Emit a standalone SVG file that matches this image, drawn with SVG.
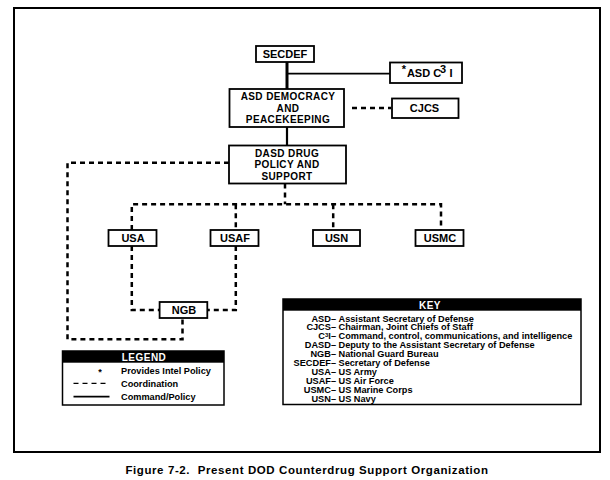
<svg xmlns="http://www.w3.org/2000/svg" width="610" height="480" viewBox="0 0 610 480">
<style>
.box{fill:#fff;stroke:#000;stroke-width:1.8}
.lbl{font-family:"Liberation Sans",Arial,sans-serif;font-size:11px;font-weight:bold;text-anchor:middle;fill:#000}
.ml{font-size:10px;letter-spacing:0.4px}
.sm{font-family:"Liberation Sans",Arial,sans-serif;font-size:9.2px;font-weight:bold;fill:#000}
.term{text-anchor:end}
.hdr{font-family:"Liberation Sans",Arial,sans-serif;font-size:10px;font-weight:bold;fill:#fff;text-anchor:middle;letter-spacing:0.5px}
.solid{stroke:#000;fill:none}
.dash{stroke:#000;stroke-width:2.5;stroke-dasharray:5 4;fill:none}
</style>
<rect x="0" y="0" width="610" height="480" fill="#fff"/>
<rect x="14" y="8" width="586" height="444" fill="none" stroke="#000" stroke-width="2"/>

<g id="connectors">
  <path class="solid" stroke-width="3" d="M287,62 V89"/>
  <path class="solid" stroke-width="1.8" d="M287,73.7 H390"/>
  <path class="solid" stroke-width="2.2" d="M287,127 V145.5"/>
  <path class="dash" d="M352,108 H391"/>
  <path class="dash" d="M229,162.7 H67.5 V339.3 H182.5 V318"/>
  <path class="dash" d="M285,183.5 V204.3"/>
  <path class="dash" d="M131.8,230 V204.3 H441 V230"/>
  <path class="dash" d="M235.8,204.3 V230"/>
  <path class="dash" d="M333.2,204.3 V230"/>
  <path class="dash" d="M131.8,246 V310 H159.6"/>
  <path class="dash" d="M235.8,246 V310 H207.3"/>
</g>

<g id="secdef">
  <rect class="box" x="256" y="46" width="58" height="16"/>
  <text class="lbl" x="285" y="58">SECDEF</text>
</g>
<g id="asdc3i">
  <rect class="box" x="390" y="62.5" width="72" height="20.5"/>
  <text class="lbl" x="404" y="73" font-size="8">*</text>
  <text class="lbl" x="424" y="77">ASD C</text>
  <text class="lbl" x="443" y="73" font-size="8">3</text>
  <text class="lbl" x="451" y="77">I</text>
</g>
<g id="asd-democracy">
  <rect class="box" x="229.5" y="89" width="114.5" height="38"/>
  <text class="lbl ml" x="288" y="100">ASD DEMOCRACY</text>
  <text class="lbl ml" x="288" y="111.5">AND</text>
  <text class="lbl ml" x="288" y="123">PEACEKEEPING</text>
</g>
<g id="cjcs">
  <rect class="box" x="392" y="98.5" width="66.5" height="19.5"/>
  <text class="lbl" x="424.5" y="112">CJCS</text>
</g>
<g id="dasd">
  <rect class="box" x="229" y="145.5" width="117" height="38"/>
  <text class="lbl ml" x="287" y="156.5">DASD DRUG</text>
  <text class="lbl ml" x="287" y="168">POLICY AND</text>
  <text class="lbl ml" x="287" y="179.5">SUPPORT</text>
</g>
<g id="usa">
  <rect class="box" x="108.5" y="230" width="48" height="16"/>
  <text class="lbl" x="133" y="242">USA</text>
</g>
<g id="usaf">
  <rect class="box" x="210.5" y="230" width="48" height="16"/>
  <text class="lbl" x="235" y="242">USAF</text>
</g>
<g id="usn">
  <rect class="box" x="313" y="230" width="47" height="16"/>
  <text class="lbl" x="336.5" y="242">USN</text>
</g>
<g id="usmc">
  <rect class="box" x="415.5" y="230" width="48" height="16"/>
  <text class="lbl" x="440" y="242">USMC</text>
</g>
<g id="ngb">
  <rect class="box" x="159.6" y="302" width="47.7" height="16"/>
  <text class="lbl" x="184" y="314">NGB</text>
</g>

<g id="legend">
  <rect x="62.5" y="351" width="161.5" height="54" fill="#fff" stroke="#000" stroke-width="1.5"/>
  <rect x="62.5" y="351" width="161.5" height="11.7" fill="#000"/>
  <text class="hdr" x="144" y="360.5">LEGEND</text>
  <text class="sm" x="100" y="375" text-anchor="middle">*</text>
  <text class="sm" x="121" y="374">Provides Intel Policy</text>
  <path d="M73.5,383.3 H109.5" stroke="#000" stroke-width="1.2" stroke-dasharray="5 4" fill="none"/>
  <text class="sm" x="121" y="386.6">Coordination</text>
  <path d="M73.5,396.7 H109.5" stroke="#000" stroke-width="1.8" fill="none"/>
  <text class="sm" x="121" y="400">Command/Policy</text>
</g>

<g id="key">
  <rect x="283" y="299" width="298" height="105.5" fill="#fff" stroke="#000" stroke-width="1.5"/>
  <rect x="283" y="299" width="298" height="11.7" fill="#000"/>
  <text class="hdr" x="430" y="308.5">KEY</text>
  <text class="sm term" x="336" y="321.5">ASD–</text><text class="sm" x="338.5" y="321.5">Assistant Secretary of Defense</text>
  <text class="sm term" x="336" y="330.4">CJCS–</text><text class="sm" x="338.5" y="330.4">Chairman, Joint Chiefs of Staff</text>
  <text class="sm term" x="336" y="339.3">C<tspan font-size="6" dy="-2">3</tspan><tspan dy="2">I–</tspan></text><text class="sm" x="338.5" y="339.3">Command, control, communications, and intelligence</text>
  <text class="sm term" x="336" y="348.2">DASD–</text><text class="sm" x="338.5" y="348.2">Deputy to the Assistant Secretary of Defense</text>
  <text class="sm term" x="336" y="357.1">NGB–</text><text class="sm" x="338.5" y="357.1">National Guard Bureau</text>
  <text class="sm term" x="336" y="366">SECDEF–</text><text class="sm" x="338.5" y="366">Secretary of Defense</text>
  <text class="sm term" x="336" y="374.9">USA–</text><text class="sm" x="338.5" y="374.9">US Army</text>
  <text class="sm term" x="336" y="383.8">USAF–</text><text class="sm" x="338.5" y="383.8">US Air Force</text>
  <text class="sm term" x="336" y="392.7">USMC–</text><text class="sm" x="338.5" y="392.7">US Marine Corps</text>
  <text class="sm term" x="336" y="401.6">USN–</text><text class="sm" x="338.5" y="401.6">US Navy</text>
</g>

<text x="307" y="474" font-family="'Liberation Sans',Arial,sans-serif" font-size="11.5" font-weight="bold" text-anchor="middle" letter-spacing="0.6" xml:space="preserve">Figure 7-2.  Present DOD Counterdrug Support Organization</text>
</svg>
